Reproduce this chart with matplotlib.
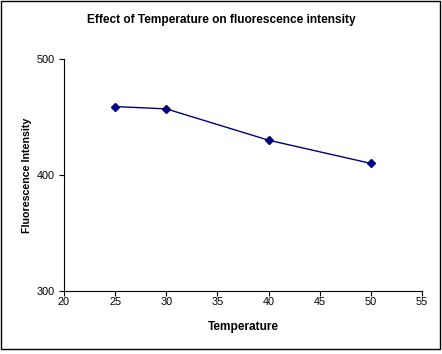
import matplotlib
matplotlib.use("Agg")
import matplotlib.pyplot as plt
from matplotlib.patches import Rectangle

# data
temperature = [25, 30, 40, 50]
intensity = [459, 457, 430, 410]

plt.rcParams['font.family'] = ['Liberation Sans', 'DejaVu Sans']

fig = plt.figure(figsize=(4.42, 3.54), dpi=100)
ax = fig.add_axes([64 / 442, 1 - 291 / 354, 358 / 442, 232 / 354])

ax.plot(temperature, intensity, color='#000080', linewidth=1.0,
        marker='D', markersize=4, markerfacecolor='#000080',
        markeredgecolor='#000080')

ax.set_xlim(20, 55)
ax.set_ylim(300, 500)
ax.set_xticks(range(20, 56, 5))
ax.set_yticks([300, 400, 500])
ax.tick_params(direction='out', length=3.5, width=0.8, labelsize=7.8)
ax.tick_params(axis='x', pad=1)
ax.tick_params(axis='y', pad=3)

for side in ['top', 'right']:
    ax.spines[side].set_visible(False)
for side in ['left', 'bottom']:
    ax.spines[side].set_linewidth(0.8)

ax.set_xlabel('Temperature', fontsize=8.6, fontweight='bold')
ax.set_ylabel('Fluorescence Intensity', fontsize=7.7, fontweight='bold')
ax.xaxis.set_label_coords(0.5, -36 / 232)
ax.yaxis.set_label_coords(-37 / 358, 0.5)
ax.xaxis.label.set_va('center')
ax.yaxis.label.set_va('center')
fig.text(0.5, 1 - 20 / 354, 'Effect of Temperature on fluorescence intensity',
         ha='center', va='center', fontsize=8.6, fontweight='bold')

# chart border
fig.patches.append(Rectangle((1 / 442, 1 - 349 / 354), 439 / 442, 348 / 354,
                             transform=fig.transFigure, fill=False,
                             edgecolor='black', linewidth=1.0))

fig.savefig('out.png', dpi=100)
